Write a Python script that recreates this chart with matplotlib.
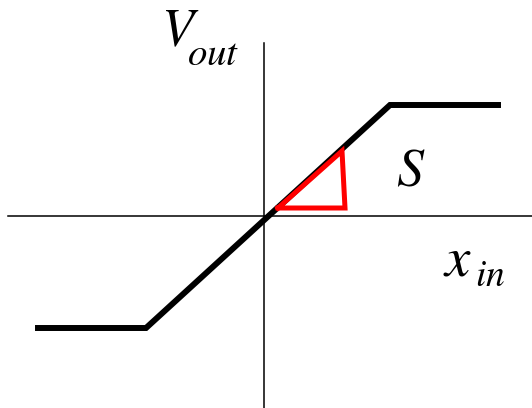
import matplotlib
matplotlib.use("Agg")
import matplotlib.pyplot as plt

plt.rcParams["mathtext.fontset"] = "stix"
plt.rcParams["font.family"] = "STIXGeneral"

# transfer curve: linear region with saturation on both sides
x_in = [-226, -118, 126, 234]
v_out = [-112, -112, 111, 111]

# slope marker triangle
tri_x = [14, 78, 81, 14]
tri_y = [8, 65, 8, 8]

fig = plt.figure(figsize=(5.32, 4.08), dpi=100)
ax = fig.add_axes([0, 0, 1, 1])
ax.set_xlim(-264, 268)
ax.set_ylim(-192, 216)
ax.axis("off")

# axes
ax.plot([-256, 268], [0, 0], color="black", lw=1.1)
ax.plot([0, 0], [-192, 173], color="black", lw=1.1)

ax.plot(x_in, v_out, color="black", lw=4.3, solid_joinstyle="miter")
ax.plot(tri_x, tri_y, color="red", lw=3.6, solid_joinstyle="miter")

# labels: main symbol plus a separately sized subscript
ax.text(-103, 170, r"$V$", fontsize=38, va="baseline", ha="left")
ax.text(-77, 151, r"$out$", fontsize=28, va="baseline", ha="left")
ax.text(132, 30, r"$S$", fontsize=39, va="baseline", ha="left")
ax.text(179, -59, r"$x$", fontsize=41, va="baseline", ha="left")
ax.text(211, -70, r"$in$", fontsize=27, va="baseline", ha="left")

fig.savefig("out.png", dpi=100)
